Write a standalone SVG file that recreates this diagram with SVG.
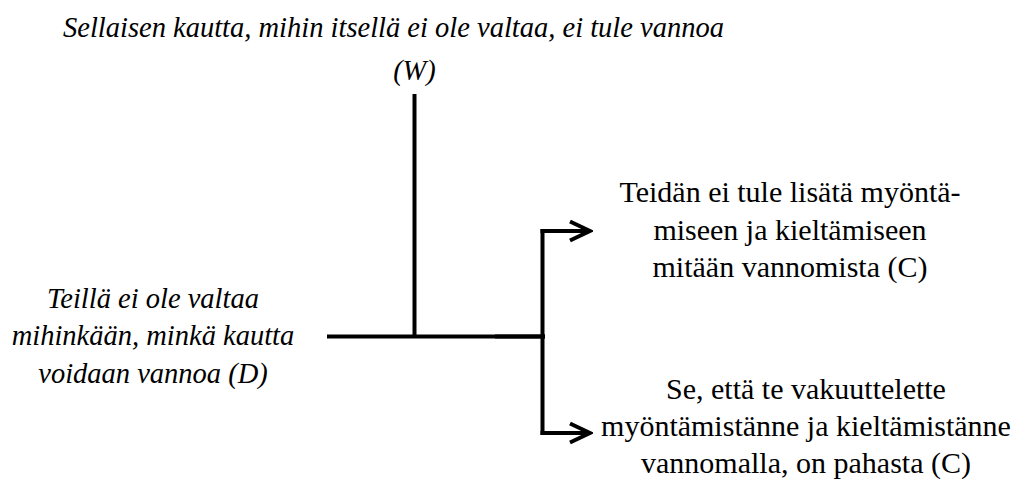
<svg xmlns="http://www.w3.org/2000/svg" width="1019" height="482" viewBox="0 0 1019 482">
<style>
text{font-family:'Liberation Serif','Times New Roman',serif;font-size:30px;fill:#000;text-anchor:middle}
.i{font-style:italic;font-size:28.5px}
.c{stroke:#000;stroke-width:4;fill:none}
</style>
<defs>
<marker id="ah" viewBox="0 0 26 24" refX="23" refY="12" markerWidth="26" markerHeight="24" markerUnits="userSpaceOnUse" orient="auto">
<path d="M3,2.5 L23,12 L3,21.5" fill="none" stroke="#000" stroke-width="4"/>
</marker>
</defs>
<rect width="1019" height="482" fill="#fff"/>
<g id="W">
<text class="i" x="393.5" y="37">Sellaisen kautta, mihin itsellä ei ole valtaa, ei tule vannoa</text>
<text class="i" x="414.5" y="80">(W)</text>
</g>
<g id="D">
<text class="i" x="153" y="308">Teillä ei ole valtaa</text>
<text class="i" x="153" y="345">mihinkään, minkä kautta</text>
<text class="i" x="153" y="383">voidaan vannoa (D)</text>
</g>
<g id="C1">
<text x="790" y="202">Teidän ei tule lisätä myöntä-</text>
<text x="790" y="240">miseen ja kieltämiseen</text>
<text x="790" y="277">mitään vannomista (C)</text>
</g>
<g id="C2">
<text x="806" y="399">Se, että te vakuuttelette</text>
<text x="806" y="436">myöntämistänne ja kieltämistänne</text>
<text x="806" y="473">vannomalla, on pahasta (C)</text>
</g>
<g id="connectors">
<line class="c" x1="414.5" y1="94" x2="414.5" y2="338"/>
<line class="c" x1="327" y1="336.5" x2="545" y2="336.5"/>
<line class="c" x1="495" y1="336.5" x2="545" y2="336.5" stroke-width="5"/>
<line class="c" x1="542.5" y1="229" x2="542.5" y2="435"/>
<line class="c" x1="540.5" y1="231" x2="590" y2="231" marker-end="url(#ah)"/>
<line class="c" x1="540.5" y1="433" x2="590" y2="433" marker-end="url(#ah)"/>
</g>
</svg>
